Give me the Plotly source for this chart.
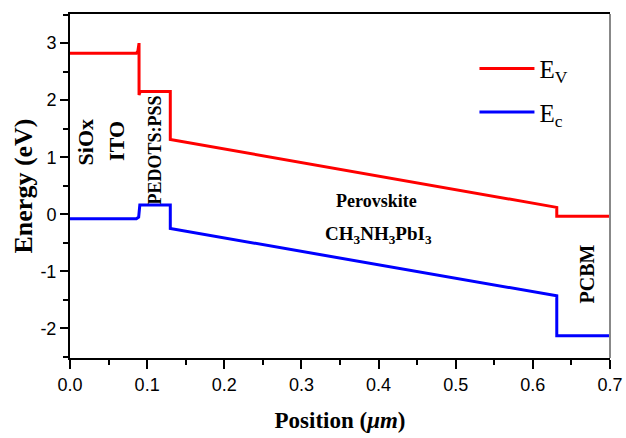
import plotly.graph_objects as go

# Energy band diagram data (position in um, energy in eV)
ev_x = [0.0, 0.086, 0.088, 0.0895, 0.0895, 0.091, 0.13, 0.13, 0.631, 0.631, 0.7]
ev_y = [2.82, 2.82, 2.86, 3.0, 2.09, 2.15, 2.15, 1.31, 0.12, -0.035, -0.035]

ec_x = [0.0, 0.086, 0.089, 0.0905, 0.13, 0.13, 0.631, 0.631, 0.7]
ec_y = [-0.08, -0.08, -0.05, 0.16, 0.16, -0.25, -1.43, -2.13, -2.13]

layer_labels = ["SiOx", "ITO", "PEDOTS:PSS", "Perovskite", "CH<sub>3</sub>NH<sub>3</sub>PbI<sub>3</sub>", "PCBM"]
label_x = [0.0195, 0.0605, 0.1105, 0.397, 0.40, 0.670]
label_y = [1.26, 1.28, 1.12, 0.23, -0.36, -1.04]
label_angle = [-90, -90, -90, 0, 0, -90]
label_size = [22, 22, 18, 18, 19, 20]

x_ticks = [0.0, 0.1, 0.2, 0.3, 0.4, 0.5, 0.6, 0.7]
y_ticks = [-2, -1, 0, 1, 2, 3]

serif = "Times New Roman, Liberation Serif, serif"
sans = "Arial, Liberation Sans, sans-serif"

fig = go.Figure()
fig.add_trace(go.Scatter(x=ev_x, y=ev_y, mode="lines", name="E<sub>V</sub>", legendgroup="v",
                         line=dict(color="#ff0000", width=3)))
fig.add_trace(go.Scatter(x=ec_x, y=ec_y, mode="lines", name="E<sub>c</sub>", legendgroup="c",
                         line=dict(color="#0000ff", width=3)))

for t, x, y, a, s in zip(layer_labels, label_x, label_y, label_angle, label_size):
    fig.add_annotation(x=x, y=y, text="<b>" + t + "</b>", textangle=a, showarrow=False,
                       font=dict(family=serif, size=s, color="black"),
                       xanchor="center", yanchor="middle")

fig.add_shape(type="line", xref="paper", yref="paper", x0=1, x1=1, y0=0, y1=1,
              line=dict(color="#888888", width=2))

fig.update_layout(
    width=626, height=438,
    margin=dict(l=70, r=16, t=14, b=80, autoexpand=False),
    paper_bgcolor="white", plot_bgcolor="white",
    showlegend=True,
    legend=dict(x=0.749, y=0.908, xanchor="left", yanchor="top",
                font=dict(family=serif, size=25, color="black"),
                bgcolor="rgba(0,0,0,0)", itemwidth=55, tracegroupgap=8),
    xaxis=dict(range=[0, 0.7], tickvals=x_ticks, ticktext=[f"{v:.1f}" for v in x_ticks],
               showgrid=False, zeroline=False, showline=True, linecolor="black", linewidth=2,
               mirror=True, ticks="outside", ticklen=9, tickwidth=2, tickcolor="black",
               tickfont=dict(family=sans, size=18, color="black"),
               minor=dict(dtick=0.05, ticks="outside", ticklen=5, tickwidth=2, tickcolor="black"),
               title=dict(text="<b>Position (<i>μm</i>)</b>", font=dict(family=serif, size=23, color="black"),
                          standoff=18)),
    yaxis=dict(range=[-2.52, 3.51], tickvals=y_ticks, ticktext=[str(v) for v in y_ticks],
               showgrid=False, zeroline=False, showline=True, linecolor="black", linewidth=2,
               mirror=False, ticks="outside", ticklen=8, tickwidth=2, tickcolor="black",
               tickfont=dict(family=sans, size=18, color="black"),
               minor=dict(dtick=0.5, ticks="outside", ticklen=5, tickwidth=2, tickcolor="black"),
               title=dict(text="<b>Energy (eV)</b>", font=dict(family=serif, size=26, color="black"),
                          standoff=0)),
)

fig.write_html("out.html")
